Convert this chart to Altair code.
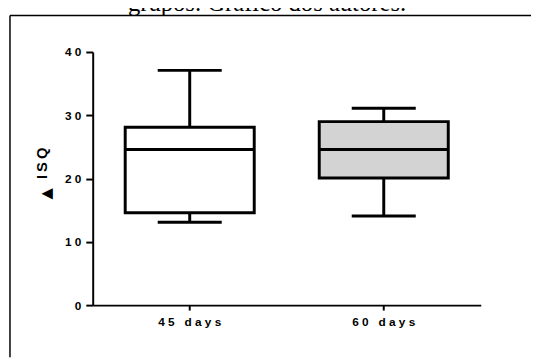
import altair as alt
import pandas as pd

# ---- data ----
groups = ["45 days", "60 days"]
mins = [13.1, 14.1]
q1s = [14.6, 20.1]
medians = [24.6, 24.6]
q3s = [28.1, 29.0]
maxs = [37.1, 31.1]
fills = ["#ffffff", "#d3d3d3"]
y_ticks = [0, 10, 20, 30, 40]
caption = "grupos. Gráfico dos autores."
y_title_symbol = "▲"
y_title_text = "I\u2009S\u2009Q"

df = pd.DataFrame({
    "group": groups, "min": mins, "q1": q1s, "median": medians,
    "q3": q3s, "max": maxs,
})

spaced = "join(split(datum.label, ''), '\u00a0')"

x = alt.X(
    "group:N",
    sort=groups,
    scale=alt.Scale(type="band", paddingInner=0, paddingOuter=0),
    axis=alt.Axis(
        title=None, labelAngle=0, labelFont="Liberation Sans",
        labelFontWeight="bold", labelFontSize=12, labelColor="black",
        labelExpr=spaced, domainColor="black", domainWidth=2,
        tickColor="black", tickWidth=2, tickSize=5, labelPadding=7,
        grid=False,
    ),
)
yscale = alt.Scale(domain=[0, 40], nice=False)
yaxis = alt.Axis(
    title=None, values=y_ticks, labelFont="Liberation Sans",
    labelFontWeight="bold", labelFontSize=12, labelColor="black",
    labelExpr=spaced, domainColor="black", domainWidth=2,
    tickColor="black", tickWidth=2, tickSize=7, labelPadding=5, grid=False,
)

base = alt.Chart(df)

whisk_lo = base.mark_rule(color="black", strokeWidth=3).encode(
    x=x, y=alt.Y("min:Q", scale=yscale, axis=yaxis), y2="q1:Q")
whisk_hi = base.mark_rule(color="black", strokeWidth=3).encode(
    x=x, y=alt.Y("q3:Q", scale=yscale, axis=yaxis), y2="max:Q")
box = base.mark_bar(size=131, stroke="black", strokeWidth=3).encode(
    x=x, y=alt.Y("q1:Q", scale=yscale, axis=yaxis), y2="q3:Q",
    fill=alt.Fill("group:N", scale=alt.Scale(domain=groups, range=fills), legend=None),
)
med = base.mark_tick(size=131, thickness=3, color="black", opacity=1).encode(
    x=x, y=alt.Y("median:Q", scale=yscale, axis=yaxis))
cap_lo = base.mark_tick(size=65, thickness=3, color="black", opacity=1).encode(
    x=x, y=alt.Y("min:Q", scale=yscale, axis=yaxis))
cap_hi = base.mark_tick(size=65, thickness=3, color="black", opacity=1).encode(
    x=x, y=alt.Y("max:Q", scale=yscale, axis=yaxis))

deco = alt.Chart(pd.DataFrame({"a": [0]}))
frame_left = deco.mark_rule(color="black", strokeWidth=1.5).encode(
    x=alt.value(-84), y=alt.value(-37), y2=alt.value(310))
frame_top = deco.mark_rule(color="black", strokeWidth=1.5).encode(
    x=alt.value(-84), x2=alt.value(460), y=alt.value(-37))
cap_text = deco.mark_text(
    text=caption, font="Liberation Serif", fontSize=25, color="black",
    align="center", baseline="alphabetic",
).encode(x=alt.value(177), y=alt.value(-42))
ytitle_sym = deco.mark_text(
    text=y_title_symbol, font="DejaVu Sans", fontSize=15,
    color="black", angle=270, align="center", baseline="middle",
).encode(x=alt.value(-47), y=alt.value(144))
ytitle_txt = deco.mark_text(
    text=y_title_text, font="Liberation Sans", fontSize=15, fontWeight="bold",
    color="black", angle=270, align="center", baseline="middle",
).encode(x=alt.value(-51), y=alt.value(113))

chart = alt.layer(
    whisk_lo, whisk_hi, box, med, cap_lo, cap_hi,
    frame_left, frame_top, cap_text, ytitle_sym, ytitle_txt,
).properties(
    width=394, height=257,
    autosize=alt.AutoSizeParams(type="none"),
    padding={"left": 86, "top": 42, "right": 51, "bottom": 51},
    background="white",
).configure_view(stroke=None)

chart.save("out.html", embed_options={"renderer": "svg", "actions": False})
